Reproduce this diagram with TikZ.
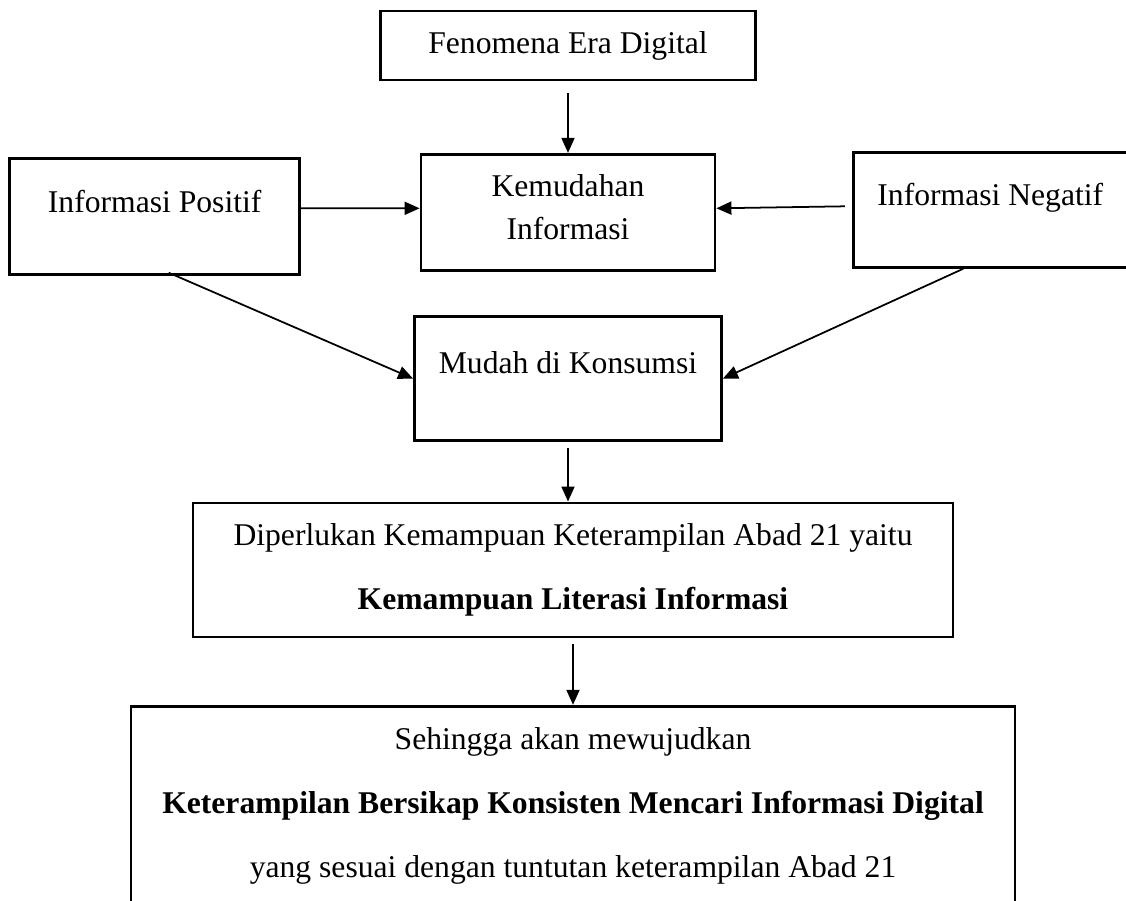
\documentclass[tikz,border=0pt]{standalone}
\usepackage{fontspec}
\setmainfont{Liberation Serif}
\usetikzlibrary{arrows.meta,positioning}

\begin{document}
\begin{tikzpicture}[
  node distance=1cm and 1cm,
  box/.style={rectangle, draw=black, line width=1.6pt,
              align=center, font=\fontsize{18pt}{22pt}\selectfont},
  raised/.style={text height=0.42cm, text depth=#1},
  arr/.style={-{Triangle[length=0.3cm,width=0.26cm]}, line width=1pt, draw=black}
]
\clip (0,0) rectangle (22.52,-18.02);
%% ── Top: the phenomenon ─────────────────────────────────────────────────
\node[box, minimum width=7.5cm, minimum height=1.38cm] (fen) at (11.36,-0.91)
      {Fenomena Era Digital};
%% ── Middle row: positive / ease / negative ──────────────────────────────
\node[box, text depth=0.2cm, minimum width=5.88cm, minimum height=2.32cm,
      below=1.43cm of fen] (kem) {Kemudahan\\[2.5pt]Informasi};
\node[box, raised=0.56cm, minimum width=5.8cm, minimum height=2.32cm,
      left=2.37cm of kem, yshift=-0.08cm] (pos) {Informasi Positif};
\node[box, raised=0.58cm, minimum width=5.48cm, minimum height=2.3cm,
      right=2.71cm of kem, yshift=0.05cm] (neg) {Informasi Negatif};
%% ── Consumption ─────────────────────────────────────────────────────────
\node[box, raised=0.64cm, minimum width=6.14cm, minimum height=2.48cm,
      below=0.87cm of kem] (mud) {Mudah di Konsumsi};
%% ── Skills needed + outcome ─────────────────────────────────────────────
\node[box, minimum width=15.2cm, minimum height=2.68cm,
      below=1.19cm of mud, xshift=0.1cm] (dip)
      {Diperlukan Kemampuan Keterampilan Abad 21 yaitu\\[14pt]
       \textbf{Kemampuan Literasi Informasi}};
\node[box, minimum width=17.68cm, minimum height=4.0cm, below=1.33cm of dip] (seh)
      {Sehingga akan mewujudkan\\[14.5pt]
       \textbf{Keterampilan Bersikap Konsisten Mencari Informasi Digital}\\[14.5pt]
       yang sesuai dengan tuntutan keterampilan Abad 21};
%% ── Arrows ──────────────────────────────────────────────────────────────
\draw[arr] ([yshift=-0.24cm]fen.south) -- (kem.north);
\draw[arr] ([yshift=0.16cm]pos.east) -- ([yshift=0.08cm]kem.west);
\draw[arr] ([xshift=-0.14cm,yshift=0.07cm]neg.west) -- ([yshift=0.08cm]kem.east);
\draw[arr] ([xshift=0.28cm,yshift=0.06cm]pos.south) -- (mud.west);
\draw[arr] ([xshift=-0.54cm]neg.south) -- (mud.east);
\draw[arr] ([yshift=-0.12cm]mud.south) -- ([xshift=-0.1cm]dip.north);
\draw[arr] ([yshift=-0.12cm]dip.south) -- (seh.north);
\end{tikzpicture}
\end{document}
